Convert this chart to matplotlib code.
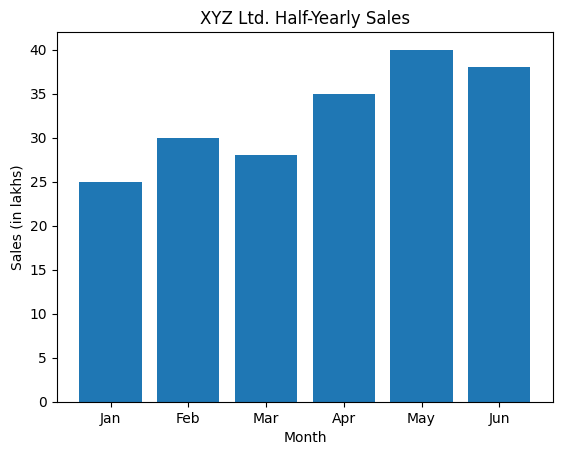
import matplotlib
matplotlib.use('Agg')
import matplotlib.pyplot as plt

months = ['Jan', 'Feb', 'Mar', 'Apr', 'May', 'Jun']
sales = [25, 30, 28, 35, 40, 38]

plt.bar(months, sales)
plt.title('XYZ Ltd. Half-Yearly Sales')
plt.xlabel('Month')
plt.ylabel('Sales (in lakhs)')
plt.savefig('out.png', bbox_inches='tight')
